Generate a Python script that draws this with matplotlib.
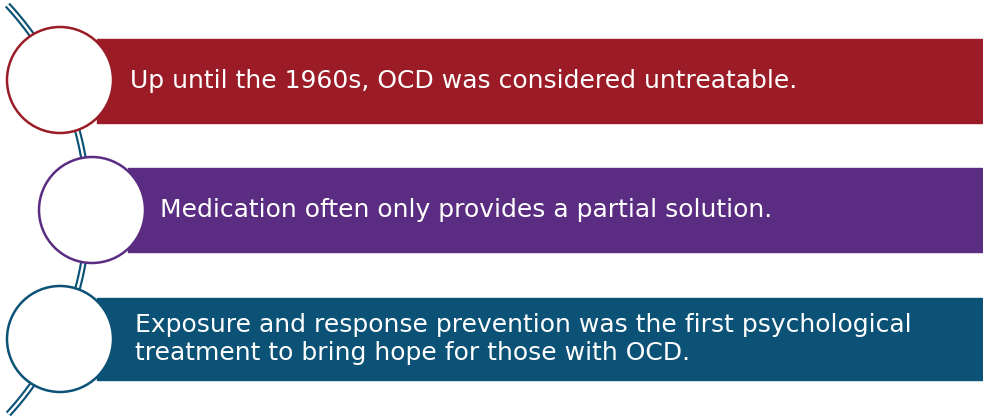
import matplotlib.pyplot as plt
import numpy as np
from matplotlib.patches import Circle, Rectangle

# diagram content
labels = [
    "Up until the 1960s, OCD was considered untreatable.",
    "Medication often only provides a partial solution.",
    "Exposure and response prevention was the first psychological\ntreatment to bring hope for those with OCD.",
]
colors = ["#9b1c27", "#5b2d82", "#0c5277"]

# layout in pixel coordinates
circle_x = [60, 92, 60]
circle_y = [80, 210, 339]
radius = 53
bar_left = [97, 128, 97]
bar_top = [39, 168, 298]
bar_bottom = [123, 252, 380]
text_x = [130, 160, 135]
bar_right = 982
arc_color = "#0c5277"

fig = plt.figure(figsize=(9.83, 4.16), dpi=100)
ax = fig.add_axes([0, 0, 1, 1])
ax.set_xlim(0, 983)
ax.set_ylim(416, 0)
ax.axis("off")

# background arc (double line)
R = 301
cx, cy = -213, 210
t = np.linspace(np.arcsin((5 - cy) / R), np.arcsin((414 - cy) / R), 300)
ax.plot(cx + R * np.cos(t), cy + R * np.sin(t), color=arc_color, lw=4.8,
        solid_capstyle="butt", zorder=1)
ax.plot(cx + R * np.cos(t), cy + R * np.sin(t), color="white", lw=1.7,
        solid_capstyle="butt", zorder=1.1)

for i in range(3):
    ax.add_patch(Rectangle((bar_left[i], bar_top[i]), bar_right - bar_left[i],
                           bar_bottom[i] - bar_top[i], color=colors[i], zorder=2))
    ax.add_patch(Circle((circle_x[i], circle_y[i]), radius, facecolor="white",
                        edgecolor=colors[i], lw=1.8, zorder=3))
    ax.text(text_x[i], (bar_top[i] + bar_bottom[i]) / 2, labels[i], color="white",
            fontsize=18, family="DejaVu Sans", ha="left", va="center",
            linespacing=1.2, zorder=4)

fig.savefig("out.png", dpi=100)
